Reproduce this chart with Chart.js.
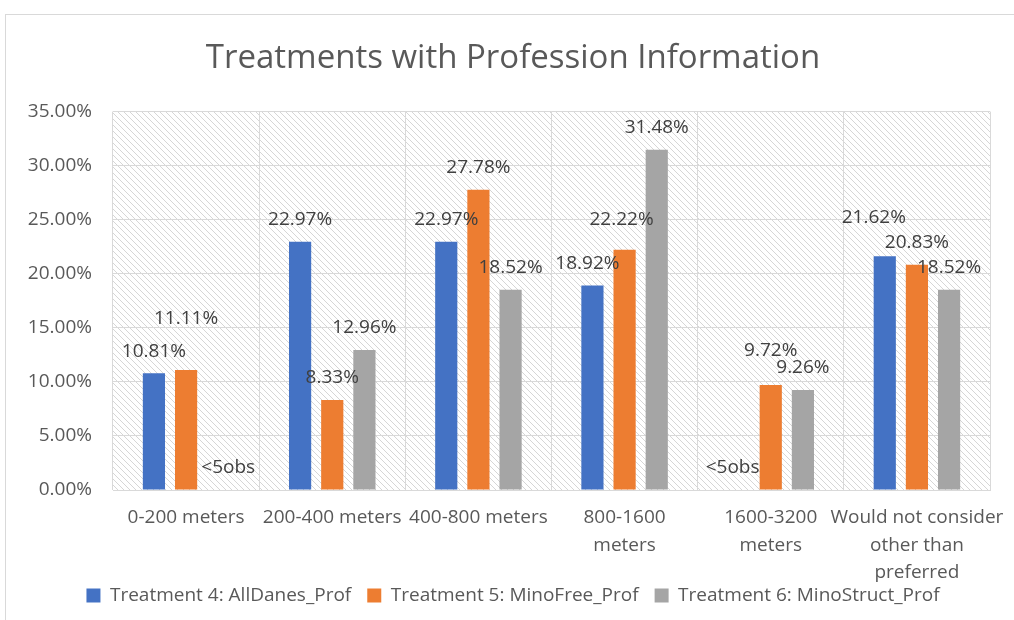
<!DOCTYPE html>
<html>
<head>
<meta charset="utf-8">
<script src="https://cdn.jsdelivr.net/npm/chart.js@4.4.1/dist/chart.umd.min.js"></script>
<style>
  html, body { margin: 0; padding: 0; background: #fff; }
  #wrap { position: relative; width: 1014px; height: 620px; overflow: hidden; }
  #frame { position: absolute; left: 5px; top: 14px; right: -2px; bottom: -2px;
           border-top: 1px solid #d9d9d9; border-left: 1px solid #d9d9d9; }
  canvas { position: absolute; left: 0; top: 0; }
</style>
</head>
<body>
<div id="wrap">
  <div id="frame"></div>
  <canvas id="chart" width="1014" height="620"></canvas>
</div>
<script>
// ====================== DATA ======================
const categories = [
  "0-200 meters",
  "200-400 meters",
  "400-800 meters",
  ["800-1600", "meters"],
  ["1600-3200", "meters"],
  ["Would not consider", "other than", "preferred"]
];
const seriesNames = [
  "Treatment 4: AllDanes_Prof",
  "Treatment 5: MinoFree_Prof",
  "Treatment 6: MinoStruct_Prof"
];
// null = fewer than 5 observations
const allDanes    = [10.81, 22.97, 22.97, 18.92, null, 21.62];
const minoFree    = [11.11, 8.33, 27.78, 22.22, 9.72, 20.83];
const minoStruct  = [null, 12.96, 18.52, 31.48, 9.26, 18.52];
const yTicks      = [0, 5, 10, 15, 20, 25, 30, 35];

const colors = ["#4472C4", "#ED7D31", "#A5A5A5"];
const FONT = "'Open Sans', 'DejaVu Sans', sans-serif";

// label nudges [dx, dy] (hand-moved labels in the original)
const labelNudge = [
  [[0, 0], [0, 0], [0, 0], [-5, 0], [-6, 0], [-11, -17]],
  [[0, -29], [0, 0], [0, 0], [-3, -8], [0, -12], [0, 0]],
  [[10, 0], [0, 0], [0, 0], [0, 0], [0, 0], [0, 0]]
];

// ====================== PLUGINS ======================
function makeHatch() {
  const c = document.createElement("canvas");
  c.width = 6; c.height = 6;
  const g = c.getContext("2d");
  g.fillStyle = "#ffffff";
  g.fillRect(0, 0, 6, 6);
  g.strokeStyle = "#d6d6d6";
  g.lineWidth = 1;
  g.beginPath();
  g.moveTo(-1, -1); g.lineTo(7, 7);
  g.moveTo(-4, 2); g.lineTo(2, 8);
  g.moveTo(2, -4); g.lineTo(8, 2);
  g.stroke();
  return c;
}

const hatchPlugin = {
  id: "hatch",
  afterLayout(chart) {
    // let the 3-line category label spill below the x scale box
    chart.scales.x.bottom += 24;
  },
  beforeDraw(chart) {
    const { ctx, chartArea: a } = chart;
    ctx.save();
    ctx.fillStyle = ctx.createPattern(makeHatch(), "repeat");
    ctx.fillRect(a.left, a.top, a.right - a.left, a.bottom - a.top);
    ctx.restore();
  }
};

const labelPlugin = {
  id: "barLabels",
  afterDatasetsDraw(chart) {
    const ctx = chart.ctx;
    const y = chart.scales.y;
    ctx.save();
    ctx.font = "19px " + FONT;
    ctx.fillStyle = "#404040";
    ctx.textAlign = "center";
    ctx.textBaseline = "middle";
    chart.data.datasets.forEach((ds, i) => {
      chart.getDatasetMeta(i).data.forEach((bar, j) => {
        const v = ds.data[j];
        const txt = v == null ? "<5obs" : v.toFixed(2) + "%";
        const n = labelNudge[i][j];
        ctx.fillText(txt, bar.x + n[0], y.getPixelForValue(v ?? 0) - 22 + n[1]);
      });
    });
    ctx.restore();
  }
};

// ====================== CHART ======================
new Chart(document.getElementById("chart"), {
  type: "bar",
  data: {
    labels: categories,
    datasets: [allDanes, minoFree, minoStruct].map((d, i) => ({
      label: seriesNames[i],
      data: d,
      backgroundColor: colors[i],
      borderWidth: 0,
      categoryPercentage: 0.66,
      barPercentage: 0.69
    }))
  },
  options: {
    responsive: false,
    animation: false,
    layout: { padding: { left: 12, right: 0, top: 0, bottom: 5 } },
    plugins: {
      tooltip: { enabled: false },
      title: {
        display: true,
        text: "Treatments with Profession Information",
        color: "#595959",
        font: { family: FONT, size: 33, weight: "normal", lineHeight: 1.2 },
        padding: { top: 39, bottom: 33 }
      },
      legend: {
        position: "bottom",
        labels: {
          color: "#595959",
          font: { family: FONT, size: 19 },
          boxWidth: 14,
          boxHeight: 14,
          padding: 16
        }
      }
    },
    scales: {
      x: {
        grid: { color: "#d9d9d9", drawTicks: false },
        border: { color: "#d9d9d9" },
        ticks: {
          color: "#595959",
          font: { family: FONT, size: 19, lineHeight: 1.45 },
          padding: 14,
          maxRotation: 0,
          autoSkip: false
        },
        afterFit: s => { s.height = 80; s.paddingRight = 24; s.paddingLeft = 0; }
      },
      y: {
        min: 0,
        max: 35,
        grid: { color: "#d9d9d9", drawTicks: false },
        border: { display: false },
        afterBuildTicks: s => { s.ticks = yTicks.map(v => ({ value: v })); },
        ticks: {
          color: "#595959",
          font: { family: FONT, size: 19 },
          padding: 21,
          callback: v => v.toFixed(2) + "%"
        },
        afterFit: s => { s.width = 101; }
      }
    }
  },
  plugins: [hatchPlugin, labelPlugin]
});
</script>
</body>
</html>
